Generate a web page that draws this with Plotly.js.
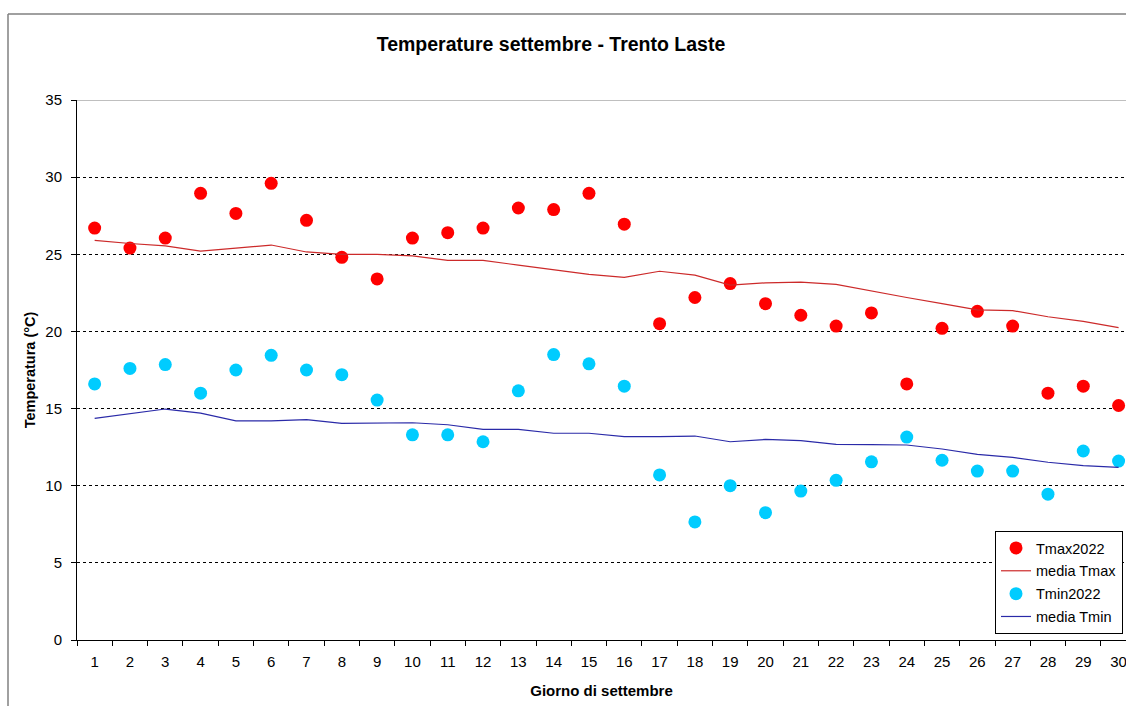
<!DOCTYPE html>
<html>
<head>
<meta charset="utf-8">
<script src="https://cdn.plot.ly/plotly-3.0.1.min.js"></script>
<style>html,body{margin:0;padding:0;background:#fff;}#chart{width:1126px;height:706px;}</style>
</head>
<body>
<div id="chart"></div>
<script>
const days = ["1","2","3","4","5","6","7","8","9","10","11","12","13","14","15","16","17","18","19","20","21","22","23","24","25","26","27","28","29","30"];
const tmax2022 = [26.7,25.4,26.05,28.95,27.65,29.6,27.2,24.8,23.4,26.05,26.4,26.7,28.0,27.9,28.95,26.95,20.5,22.2,23.1,21.8,21.05,20.35,21.2,16.6,20.2,21.3,20.35,16.0,16.45,15.2];
const mediaTmax = [25.9,25.7,25.55,25.2,25.4,25.6,25.15,25.0,25.0,24.9,24.6,24.6,24.3,24.0,23.7,23.5,23.9,23.65,23.0,23.15,23.2,23.05,22.6,22.2,21.8,21.4,21.35,20.95,20.65,20.25];
const tmin2022 = [16.6,17.6,17.85,16.0,17.5,18.45,17.5,17.2,15.55,13.3,13.3,12.85,16.15,18.5,17.9,16.45,10.7,7.65,10.0,8.25,9.65,10.35,11.55,13.15,11.65,10.95,10.95,9.45,12.25,11.6];
const mediaTmin = [14.37,14.65,14.97,14.7,14.2,14.2,14.28,14.04,14.08,14.08,13.95,13.65,13.65,13.4,13.4,13.18,13.18,13.22,12.85,13.0,12.92,12.68,12.66,12.64,12.38,12.03,11.84,11.52,11.3,11.19];
const yTicks = [0,5,10,15,20,25,30,35];

const FONT = "Liberation Sans, Arial, sans-serif";

const traces = [
  {x: days, y: tmax2022, name: "Tmax2022", type: "scatter", mode: "markers",
   marker: {color: "#ff0000", size: 13}, legendgroup: "a"},
  {x: days, y: mediaTmax, name: "media Tmax", type: "scatter", mode: "lines",
   line: {color: "#cc2a2a", width: 1.2}, legendgroup: "b"},
  {x: days, y: tmin2022, name: "Tmin2022", type: "scatter", mode: "markers",
   marker: {color: "#00ccff", size: 13}, legendgroup: "c"},
  {x: days, y: mediaTmin, name: "media Tmin", type: "scatter", mode: "lines",
   line: {color: "#2a2aa8", width: 1.2}, legendgroup: "d"}
];

const layout = {
  width: 1126, height: 706,
  margin: {l: 77, r: 0, t: 100, b: 66},
  paper_bgcolor: "#ffffff", plot_bgcolor: "#ffffff",
  font: {family: FONT, size: 15, color: "#000"},
  title: {text: "<b>Temperature settembre - Trento Laste</b>", font: {family: FONT, size: 19.5, color: "#000"},
          x: 551/1126, xanchor: "center", y: 1 - 44/706, yanchor: "middle"},
  xaxis: {type: "category", range: [-0.5, 29.21], tickson: "boundaries",
          showline: true, linecolor: "#000", linewidth: 1, ticks: "outside", ticklen: 5, tickcolor: "#000",
          showgrid: false, zeroline: false, tickfont: {size: 15}, ticklabelstandoff: 8,
          title: {text: "<b>Giorno di settembre</b>", font: {size: 15}, standoff: 16}},
  yaxis: {range: [0, 35], tickvals: yTicks, showline: true, linecolor: "#000", linewidth: 1,
          ticks: "outside", ticklen: 5, tickcolor: "#000", zeroline: false, ticklabelstandoff: 6,
          showgrid: true, gridcolor: "#000", griddash: "dot", gridwidth: 1, tickfont: {size: 15},
          title: {text: "<b>Temperatura (°C)</b>", font: {size: 14.5}, standoff: 6}},
  showlegend: true,
  legend: {x: (1123-77)/1049, xanchor: "right", y: (640-531)/540, yanchor: "top",
           bordercolor: "#000", borderwidth: 1, bgcolor: "#fff", font: {size: 14.5},
           traceorder: "grouped", tracegroupgap: 1},
  shapes: [
    {type: "line", xref: "paper", yref: "y", x0: 0, x1: 1, y0: 35, y1: 35, line: {color: "#808080", width: 1}},
    {type: "line", xref: "paper", yref: "paper", x0: (8-77)/1049, x1: 1.1, y0: (640-14)/540, y1: (640-14)/540, line: {color: "#808080", width: 1.5}},
    {type: "line", xref: "paper", yref: "paper", x0: (8-77)/1049, x1: (8-77)/1049, y0: (640-14)/540, y1: -0.2, line: {color: "#808080", width: 1.5}}
  ]
};

Plotly.newPlot("chart", traces, layout, {displayModeBar: false, staticPlot: true});
</script>
</body>
</html>
